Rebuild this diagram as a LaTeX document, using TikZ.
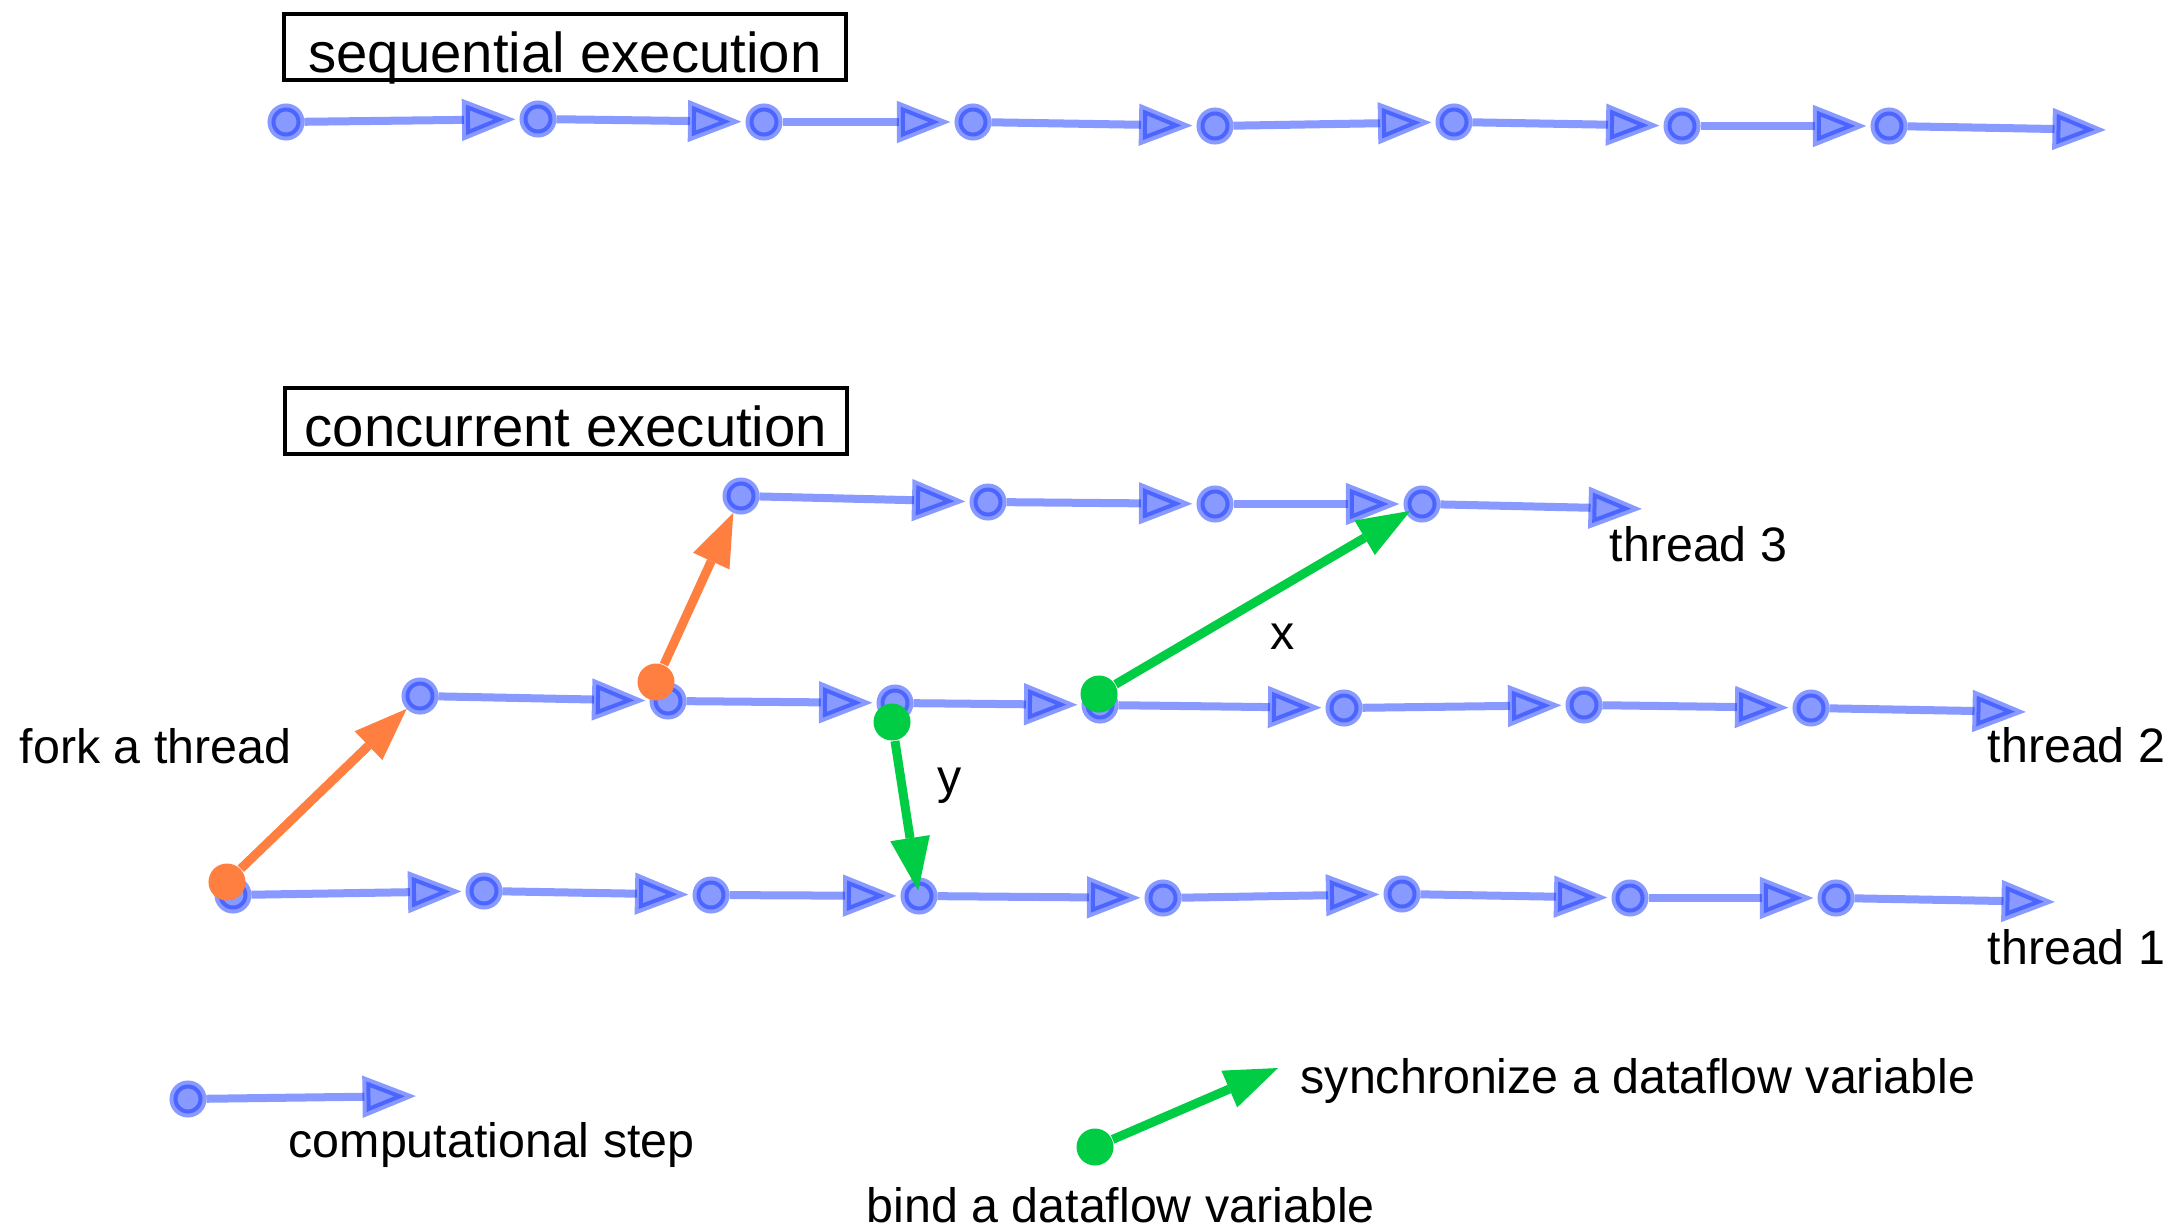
\documentclass[tikz,border=0pt]{standalone}
\usepackage{fontspec}
\setmainfont{Liberation Sans}
\usetikzlibrary{arrows.meta}
\definecolor{stepblue}{RGB}{17,51,255}
\definecolor{forkorange}{RGB}{255,127,64}
\definecolor{syncgreen}{RGB}{0,204,68}

\begin{document}
\begin{tikzpicture}[x=0.01cm, y=-0.01cm,
 stepdot/.style={circle, minimum size=0.29cm, inner sep=0pt, line width=0.08cm, draw=stepblue, fill=stepblue, opacity=0.5},
 stepline/.style={line width=0.08cm, draw=stepblue, opacity=0.5, shorten >=0.035cm, -{Triangle[length=0.54cm, width=0.4cm]}},
 forkdot/.style={circle, minimum size=0.37cm, inner sep=0pt, fill=forkorange},
 forkline/.style={line width=0.09cm, draw=forkorange, -{Triangle[length=0.53cm, width=0.4cm, line width=0pt]}},
 syncdot/.style={circle, minimum size=0.37cm, inner sep=0pt, fill=syncgreen},
 syncline/.style={line width=0.09cm, draw=syncgreen, -{Triangle[length=0.53cm, width=0.4cm, line width=0pt]}},
 titlebox/.style={draw, line width=0.04cm, minimum width=5.61cm, minimum height=0.66cm, inner sep=0pt, text height=0.5cm, text depth=0pt, font=\fontsize{16}{19}\selectfont},
 plaintext/.style={anchor=base west, inner sep=0pt, font=\fontsize{13.75}{16}\selectfont}]
 \useasboundingbox (0,0) rectangle (2173,1227);

 % titles
 \draw node[titlebox] (seq) at (565,47) {sequential execution};
 \draw node[titlebox] (conc) at (566,421) {concurrent execution};

 % sequential execution
 \draw node[stepdot] (s1) at (286,122) {};
 \draw node[stepdot] (s2) at (538,119) {};
 \draw node[stepdot] (s3) at (764,122) {};
 \draw node[stepdot] (s4) at (973,122) {};
 \draw node[stepdot] (s5) at (1215,126) {};
 \draw node[stepdot] (s6) at (1454,122) {};
 \draw node[stepdot] (s7) at (1682,126) {};
 \draw node[stepdot] (s8) at (1889,126) {};
 \coordinate (s9) at (2110,130);
 \draw[stepline] (s1) -- (s2);
 \draw[stepline] (s2) -- (s3);
 \draw[stepline] (s3) -- (s4);
 \draw[stepline] (s4) -- (s5);
 \draw[stepline] (s5) -- (s6);
 \draw[stepline] (s6) -- (s7);
 \draw[stepline] (s7) -- (s8);
 \draw[stepline] (s8) -- (s9);

 % thread 3
 \draw node[stepdot] (c1) at (741,496) {};
 \draw node[stepdot] (c2) at (988,502) {};
 \draw node[stepdot] (c3) at (1215,504) {};
 \draw node[stepdot] (c4) at (1422,504) {};
 \coordinate (c5) at (1646,509);
 \draw[stepline] (c1) -- (c2);
 \draw[stepline] (c2) -- (c3);
 \draw[stepline] (c3) -- (c4);
 \draw[stepline] (c4) -- (c5);
 \node[plaintext] at (1609,561) {thread 3};

 % thread 2
 \draw node[stepdot] (b1) at (420,696) {};
 \draw node[stepdot] (b2) at (668,701) {};
 \draw node[stepdot] (b3) at (895,703) {};
 \draw node[stepdot] (b4) at (1100,705) {};
 \draw node[stepdot] (b5) at (1344,708) {};
 \draw node[stepdot] (b6) at (1584,705) {};
 \draw node[stepdot] (b7) at (1811,708) {};
 \coordinate (b8) at (2030,712);
 \draw[stepline] (b1) -- (b2);
 \draw[stepline] (b2) -- (b3);
 \draw[stepline] (b3) -- (b4);
 \draw[stepline] (b4) -- (b5);
 \draw[stepline] (b5) -- (b6);
 \draw[stepline] (b6) -- (b7);
 \draw[stepline] (b7) -- (b8);
 \node[plaintext] at (1987,762) {thread 2};

 % thread 1
 \draw node[stepdot] (a1) at (233,895) {};
 \draw node[stepdot] (a2) at (484,891) {};
 \draw node[stepdot] (a3) at (711,895) {};
 \draw node[stepdot] (a4) at (919,896) {};
 \draw node[stepdot] (a5) at (1163,898) {};
 \draw node[stepdot] (a6) at (1402,894) {};
 \draw node[stepdot] (a7) at (1630,898) {};
 \draw node[stepdot] (a8) at (1836,898) {};
 \coordinate (a9) at (2059,902);
 \draw[stepline] (a1) -- (a2);
 \draw[stepline] (a2) -- (a3);
 \draw[stepline] (a3) -- (a4);
 \draw[stepline] (a4) -- (a5);
 \draw[stepline] (a5) -- (a6);
 \draw[stepline] (a6) -- (a7);
 \draw[stepline] (a7) -- (a8);
 \draw[stepline] (a8) -- (a9);
 \node[plaintext] at (1987,964) {thread 1};

 % forks
 \draw node[forkdot] (f1) at (227,882) {};
 \draw node[forkdot] (f2) at (656,682) {};
 \draw[forkline] (f1) -- (b1);
 \draw[forkline] (f2) -- (c1);
 \node[plaintext] at (19,763) {fork a thread};

 % dataflow variables
 \draw node[syncdot] (g1) at (892,722) {};
 \draw node[syncdot] (g2) at (1099,694) {};
 \draw[syncline, shorten >=-0.13cm] (g1) -- (a4);
 \draw[syncline, shorten >=-0.05cm] (g2) -- (c4);
 \node[plaintext] at (1270,649) {x};
 \node[plaintext] at (937,793) {y};

 % legend
 \draw node[stepdot] (k1) at (188,1099) {};
 \coordinate (k1e) at (420,1096);
 \draw[stepline] (k1) -- (k1e);
 \node[plaintext] at (288,1157) {computational step};
 \draw node[syncdot] (k2) at (1095,1147) {};
 \coordinate (k2e) at (1278,1068);
 \draw[syncline] (k2) -- (k2e);
 \node[plaintext] at (1300,1093) {synchronize a dataflow variable};
 \node[plaintext] at (866,1222) {bind a dataflow variable};
\end{tikzpicture}
\end{document}
